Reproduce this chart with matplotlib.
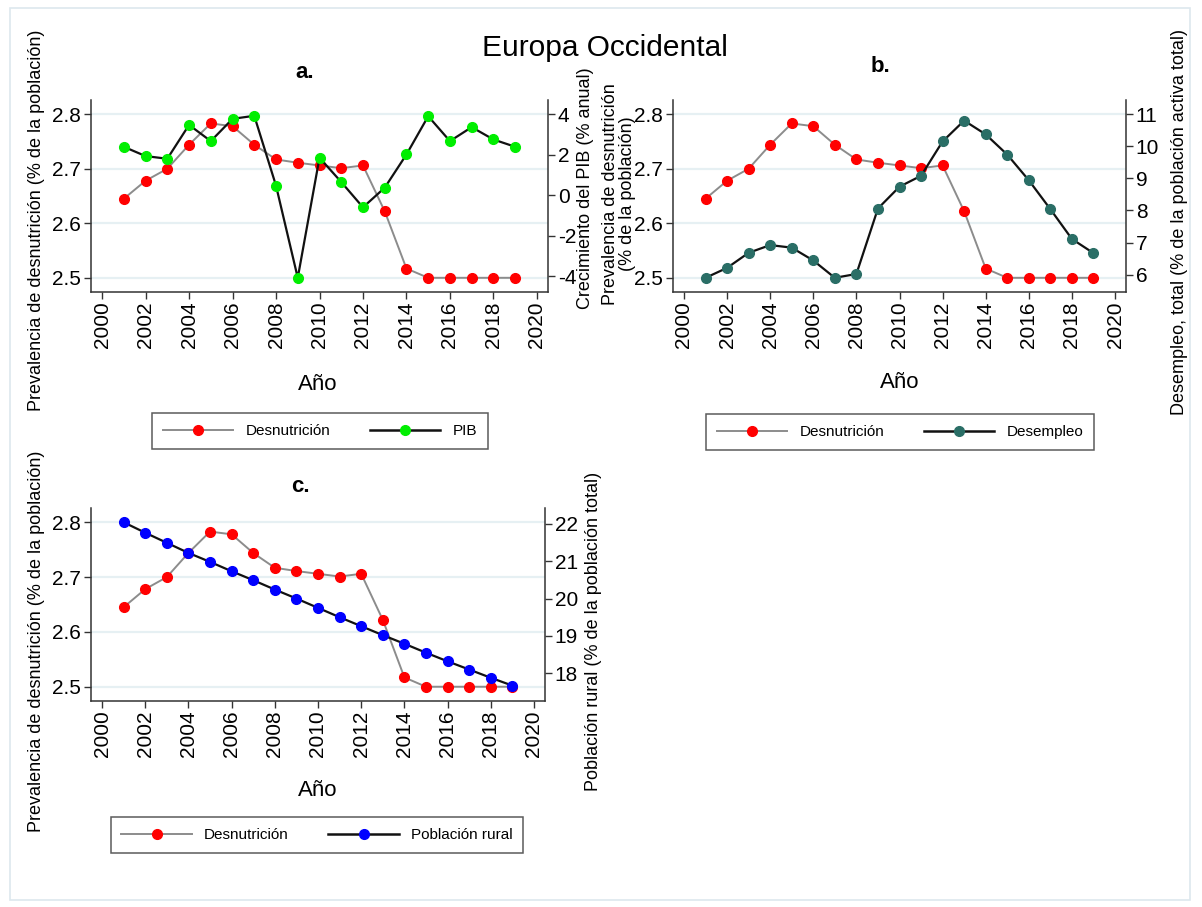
import matplotlib
matplotlib.use("Agg")
import matplotlib.pyplot as plt
from matplotlib.lines import Line2D
from matplotlib.patches import Rectangle

plt.rcParams['font.family'] = ['Liberation Sans', 'DejaVu Sans']

# ---------------- data ----------------
years = [2001, 2002, 2003, 2004, 2005, 2006, 2007, 2008, 2009, 2010,
         2011, 2012, 2013, 2014, 2015, 2016, 2017, 2018, 2019]
desnutricion = [2.645, 2.678, 2.700, 2.744, 2.783, 2.778, 2.744, 2.717, 2.711, 2.706,
                2.701, 2.706, 2.622, 2.517, 2.500, 2.500, 2.500, 2.500, 2.500]
pib = [2.39, 1.93, 1.80, 3.47, 2.67, 3.77, 3.92, 0.47, -4.08, 1.85,
       0.65, -0.60, 0.37, 2.01, 3.90, 2.67, 3.36, 2.75, 2.39]
desempleo = [5.90, 6.21, 6.68, 6.92, 6.84, 6.44, 5.90, 6.02, 8.06, 8.74,
             9.08, 10.15, 10.80, 10.37, 9.74, 8.94, 8.04, 7.11, 6.67]
poblacion_rural = [22.04, 21.76, 21.49, 21.22, 20.98, 20.73, 20.49, 20.24, 20.00, 19.75,
                   19.50, 19.26, 19.02, 18.79, 18.55, 18.32, 18.10, 17.88, 17.67]

left_ticks = [2.5, 2.6, 2.7, 2.8]
x_ticks = list(range(2000, 2021, 2))
pib_ticks = [-4, -2, 0, 2, 4]
desempleo_ticks = [6, 7, 8, 9, 10, 11]
rural_ticks = [18, 19, 20, 21, 22]

titulo = "Europa Occidental"
ylab_left = "Prevalencia de desnutrición (% de la población)"
ylab_left_b = "Prevalencia de desnutrición\n(% de la población)"
ylab_pib = "Crecimiento del PIB (% anual)"
ylab_des = "Desempleo, total (% de la población activa total)"
ylab_rur = "Población rural (% de la población total)"
xlab = "Año"

# ---------------- layout ----------------
W, H = 1202, 907
fig = plt.figure(figsize=(W / 100, H / 100), dpi=100)
fig.patch.set_facecolor('white')


def rect(x0, y0, x1, y1):
    return [x0 / W, 1 - y1 / H, (x1 - x0) / W, (y1 - y0) / H]


def fx(x):
    return x / W


def fy(y):
    return 1 - y / H


# faint outer frame
fig.add_artist(Rectangle((fx(10), fy(900)), fx(1190) - fx(10), fy(8) - fy(900),
                         transform=fig.transFigure, fill=False,
                         edgecolor='#dde8ee', lw=1.2))

RED = '#ff0000'
GRAY = '#8c8c8c'
GREEN = '#00ee00'
TEAL = '#2a6e66'
BLUE = '#0000ff'
GRID = '#e6f0f3'
SPINE = '#333333'

LO, HI = 2.5, 2.8
MARG = 0.026
TICKFS = 15
LABFS = 13


def style_axis(ax):
    ax.tick_params(axis='both', direction='out', length=5, width=1, color=SPINE,
                   labelsize=TICKFS, pad=2)
    for s in ['left', 'right', 'bottom']:
        ax.spines[s].set_color(SPINE)
        ax.spines[s].set_linewidth(1.1)
    ax.spines['top'].set_visible(False)


def panel(box, other, other_lo, other_hi, other_ticks, other_color, other_lw=1.6):
    ax = fig.add_axes(rect(*box))
    ax.set_xlim(1999.49, 2020.51)
    ax.set_ylim(LO - MARG, HI + MARG)
    ax.set_yticks(left_ticks)
    ax.set_yticklabels([f"{v:.1f}" for v in left_ticks])
    ax.set_xticks(x_ticks)
    ax.set_xticklabels([str(v) for v in x_ticks], rotation=90)
    for t in left_ticks:
        ax.axhline(t, color=GRID, lw=1.6, zorder=0)
    ax.plot(years, desnutricion, color=GRAY, lw=1.4, marker='o', ms=7,
            mfc=RED, mec=RED, zorder=3)
    style_axis(ax)
    ax.spines['right'].set_visible(False)

    scale = (other_hi - other_lo) / (HI - LO)
    ax2 = ax.twinx()
    ax2.set_ylim(other_lo - MARG * scale, other_hi + MARG * scale)
    ax2.set_yticks(other_ticks)
    ax2.set_yticklabels([str(v) for v in other_ticks])
    ax2.plot(years, other, color='#111111', lw=other_lw, marker='o', ms=7,
             mfc=other_color, mec=other_color, zorder=3)
    style_axis(ax2)
    ax2.spines['left'].set_visible(False)
    ax2.spines['bottom'].set_visible(False)
    ax2.set_xlim(1999.49, 2020.51)
    return ax, ax2


def legend(label2, color2, cx, cy, colsp):
    h1 = Line2D([], [], color=GRAY, lw=1.4, marker='o', ms=7, mfc=RED, mec=RED)
    h2 = Line2D([], [], color='#111111', lw=1.8, marker='o', ms=7, mfc=color2, mec=color2)
    leg = fig.legend([h1, h2], ["Desnutrición", label2], loc='center',
                     bbox_to_anchor=(fx(cx), fy(cy)), ncol=2, fontsize=11,
                     frameon=True, fancybox=False, edgecolor='#333333',
                     handlelength=4.6, handletextpad=0.8, columnspacing=colsp,
                     borderpad=0.7, borderaxespad=0, numpoints=1)
    leg.get_frame().set_linewidth(1.1)
    return leg


# Panel a
axa, axa2 = panel((91, 100, 548, 292), pib, -4.08, 4.0, pib_ticks, GREEN)
# Panel b
axb, axb2 = panel((673, 100, 1126, 292), desempleo, 5.9, 11.0, desempleo_ticks, TEAL)
# Panel c
axc, axc2 = panel((91, 508, 545, 701), poblacion_rural, 17.64, 22.04, rural_ticks, BLUE)

# titles
fig.text(fx(605), fy(48), titulo, ha='center', va='center', fontsize=21.5)
fig.text(fx(305), fy(72), "a.", ha='center', va='center', fontsize=16, fontweight='bold')
fig.text(fx(880), fy(66), "b.", ha='center', va='center', fontsize=16, fontweight='bold')
fig.text(fx(300), fy(487), "c.", ha='center', va='center', fontsize=16, fontweight='bold')

# axis labels
fig.text(fx(37), fy(220), ylab_left, rotation=90, ha='center', va='center', fontsize=LABFS)
fig.text(fx(586), fy(188), ylab_pib, rotation=90, ha='center', va='center', fontsize=LABFS)
fig.text(fx(619), fy(194), ylab_left_b, rotation=90, ha='center', va='center',
         fontsize=LABFS, linespacing=1.0)
fig.text(fx(1180), fy(222), ylab_des, rotation=90, ha='center', va='center', fontsize=LABFS)
fig.text(fx(37), fy(641), ylab_left, rotation=90, ha='center', va='center', fontsize=LABFS)
fig.text(fx(593), fy(631), ylab_rur, rotation=90, ha='center', va='center', fontsize=LABFS)

fig.text(fx(318), fy(385), xlab, ha='center', va='center', fontsize=16)
fig.text(fx(900), fy(383), xlab, ha='center', va='center', fontsize=16)
fig.text(fx(318), fy(790), xlab, ha='center', va='center', fontsize=16)

# legends
legend("PIB", GREEN, 320, 431, 2.6)
legend("Desempleo", TEAL, 900, 432, 2.6)
legend("Población rural", BLUE, 317, 835, 2.6)

fig.savefig("out.png", dpi=100, facecolor='white')
